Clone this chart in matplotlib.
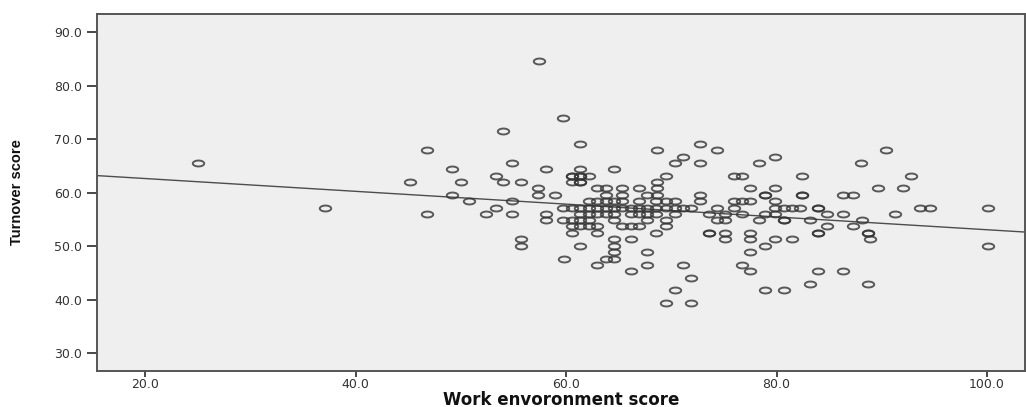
import numpy as np
import matplotlib
matplotlib.use("Agg")
import matplotlib.pyplot as plt
from matplotlib.path import Path

# ---- data ----
work_env_score = [
    # isolated / left-side points
    25.0, 37.1, 57.4, 59.75, 54.0, 46.8, 54.9, 49.2, 58.1, 53.3, 45.2, 50.0,
    54.0, 55.7, 57.3, 49.2, 57.3, 58.9, 50.8, 54.9, 53.3, 46.8, 52.4, 54.9,
    58.1, 58.1, 55.7, 55.7, 69.5, 71.9, 100.1, 100.1,
    # row 69.1
    61.34, 72.70,
    # row 68.0
    68.6, 74.34, 90.44,
    # row 66.75
    71.09, 79.87,
    # row 65.6
    70.30, 72.70, 78.29, 88.0,
    # row 64.45
    61.34, 64.56,
    # row 63.2
    60.55, 60.55, 61.34, 61.34, 62.13, 69.51, 75.92, 76.71, 82.39, 92.81,
    # row 62.0
    60.55, 61.34, 61.34, 68.6,
    # row 60.8
    62.98, 63.77, 65.35, 66.93, 68.6, 77.50, 79.87, 89.65, 92.02,
    # row 59.6
    63.77, 65.35, 67.71, 68.6, 72.70, 78.92, 78.92, 82.39, 82.39, 86.34, 87.29,
    # row 58.4
    62.13, 62.98, 63.77, 64.56, 65.35, 66.93, 68.5, 69.45, 70.30, 72.70, 75.92,
    76.71, 77.50, 79.87,
    # row 57.2
    59.67, 60.55, 61.34, 62.13, 62.98, 63.77, 64.56, 65.35, 66.14, 66.93, 67.71,
    68.5, 69.45, 70.30, 71.09, 71.91, 74.34, 75.92, 79.87, 80.66, 81.45, 82.24,
    83.97, 83.97, 93.6, 94.55,
    # row 56.1
    61.34, 62.13, 62.98, 63.77, 64.56, 66.14, 66.93, 67.71, 68.5, 70.30, 73.55,
    75.13, 76.71, 78.92, 79.87, 84.76, 86.34, 91.23,
    # row 54.9
    59.67, 60.55, 61.34, 62.13, 64.56, 67.71, 69.45, 74.34, 75.13, 78.29, 80.66,
    80.66, 83.18, 88.08,
    # row 53.7
    60.55, 61.34, 62.13, 62.98, 65.35, 66.14, 66.93, 69.45, 84.76, 87.29,
    # row 52.5
    60.55, 62.98, 68.5, 73.55, 73.55, 75.13, 77.50, 83.97, 83.97, 88.7, 88.7,
    # row 51.3
    64.56, 66.14, 75.13, 77.50, 79.87, 81.45, 88.86,
    # row 50.1
    61.34, 64.56, 78.92,
    # row 48.9
    64.56, 67.71, 77.50,
    # row 47.7
    59.82, 63.77, 64.56,
    # row 46.5
    62.98, 67.71, 71.09, 76.71,
    # row 45.3
    66.14, 77.50, 83.97, 86.34,
    # row 44.1
    71.91,
    # row 43.0
    83.18, 88.7,
    # row 41.8
    70.30, 78.92, 80.66,
]

turnover_score = [
    # isolated / left-side points
    65.6, 57.2, 84.6, 73.9, 71.55, 68.0, 65.6, 64.45, 64.45, 63.2, 62.0, 62.0,
    62.0, 62.0, 60.8, 59.6, 59.6, 59.6, 58.4, 58.4, 57.2, 56.1, 56.1, 56.1,
    56.1, 54.9, 51.3, 50.1, 39.4, 39.4, 57.2, 50.1,
    # row 69.1
    69.1, 69.1,
    # row 68.0
    68.0, 68.0, 68.0,
    # row 66.75
    66.75, 66.75,
    # row 65.6
    65.6, 65.6, 65.6, 65.6,
    # row 64.45
    64.45, 64.45,
    # row 63.2
    63.2, 63.2, 63.2, 63.2, 63.2, 63.2, 63.2, 63.2, 63.2, 63.2,
    # row 62.0
    62.0, 62.0, 62.0, 62.0,
    # row 60.8
    60.8, 60.8, 60.8, 60.8, 60.8, 60.8, 60.8, 60.8, 60.8,
    # row 59.6
    59.6, 59.6, 59.6, 59.6, 59.6, 59.6, 59.6, 59.6, 59.6, 59.6, 59.6,
    # row 58.4
    58.4, 58.4, 58.4, 58.4, 58.4, 58.4, 58.4, 58.4, 58.4, 58.4, 58.4,
    58.4, 58.4, 58.4,
    # row 57.2
    57.2, 57.2, 57.2, 57.2, 57.2, 57.2, 57.2, 57.2, 57.2, 57.2, 57.2,
    57.2, 57.2, 57.2, 57.2, 57.2, 57.2, 57.2, 57.2, 57.2, 57.2, 57.2,
    57.2, 57.2, 57.2, 57.2,
    # row 56.1
    56.1, 56.1, 56.1, 56.1, 56.1, 56.1, 56.1, 56.1, 56.1, 56.1, 56.1,
    56.1, 56.1, 56.1, 56.1, 56.1, 56.1, 56.1,
    # row 54.9
    54.9, 54.9, 54.9, 54.9, 54.9, 54.9, 54.9, 54.9, 54.9, 54.9, 54.9,
    54.9, 54.9, 54.9,
    # row 53.7
    53.7, 53.7, 53.7, 53.7, 53.7, 53.7, 53.7, 53.7, 53.7, 53.7,
    # row 52.5
    52.5, 52.5, 52.5, 52.5, 52.5, 52.5, 52.5, 52.5, 52.5, 52.5, 52.5,
    # row 51.3
    51.3, 51.3, 51.3, 51.3, 51.3, 51.3, 51.3,
    # row 50.1
    50.1, 50.1, 50.1,
    # row 48.9
    48.9, 48.9, 48.9,
    # row 47.7
    47.7, 47.7, 47.7,
    # row 46.5
    46.5, 46.5, 46.5, 46.5,
    # row 45.3
    45.3, 45.3, 45.3, 45.3,
    # row 44.1
    44.1,
    # row 43.0
    43.0, 43.0,
    # row 41.8
    41.8, 41.8, 41.8,
]

fit_intercept = 65.05
fit_slope = -0.1196

x_ticks = [20, 40, 60, 80, 100]
y_ticks = [30, 40, 50, 60, 70, 80, 90]
x_label = "Work envoronment score"
y_label = "Turnover score"

# ---- drawing ----
fig = plt.figure(figsize=(10.26, 4.07), dpi=100)
fig.patch.set_facecolor("white")
ax = fig.add_axes([0.0943, 0.0885, 0.9047, 0.8771])
ax.set_facecolor("#efefef")

# horizontally stretched hollow circle marker (as in the reference)
t = np.linspace(0, 2 * np.pi, 73)
ellipse = Path(np.column_stack([np.cos(t), 0.52 * np.sin(t)]), closed=True)

ax.plot(work_env_score, turnover_score, linestyle="none", marker=ellipse,
        ms=8.2, mfc="none", mec=(0.2, 0.2, 0.2, 0.8), mew=1.4, zorder=3)

ax.axline((0, fit_intercept), slope=fit_slope, color="#4d4d4d", lw=1.0, zorder=2)

ax.set_xlim(15.4, 103.6)
ax.set_ylim(26.7, 93.4)
ax.set_xticks(x_ticks)
ax.set_yticks(y_ticks)
ax.set_xticklabels([f"{v:.1f}" for v in x_ticks])
ax.set_yticklabels([f"{v:.1f}" for v in y_ticks])

ax.tick_params(axis="y", direction="out", length=7.5, width=1.3, color="#3a3a3a",
               labelsize=9, labelcolor="#333333", pad=3)
ax.tick_params(axis="x", direction="out", length=4, width=1.3, color="#3a3a3a",
               labelsize=9, labelcolor="#333333", pad=1.0)

for side in ["left", "bottom", "top", "right"]:
    ax.spines[side].set_color("#555555")
    ax.spines[side].set_linewidth(1.4)

ax.set_xlabel(x_label, fontsize=12, fontweight="bold", color="#111111",
              family="DejaVu Sans", labelpad=0)
ax.set_ylabel(y_label, fontsize=10.5, fontweight="bold", color="#111111",
              family=["Liberation Sans Narrow", "Liberation Sans", "DejaVu Sans"],
              fontstretch="condensed", labelpad=22)

fig.savefig("out.png", dpi=100, facecolor="white")
